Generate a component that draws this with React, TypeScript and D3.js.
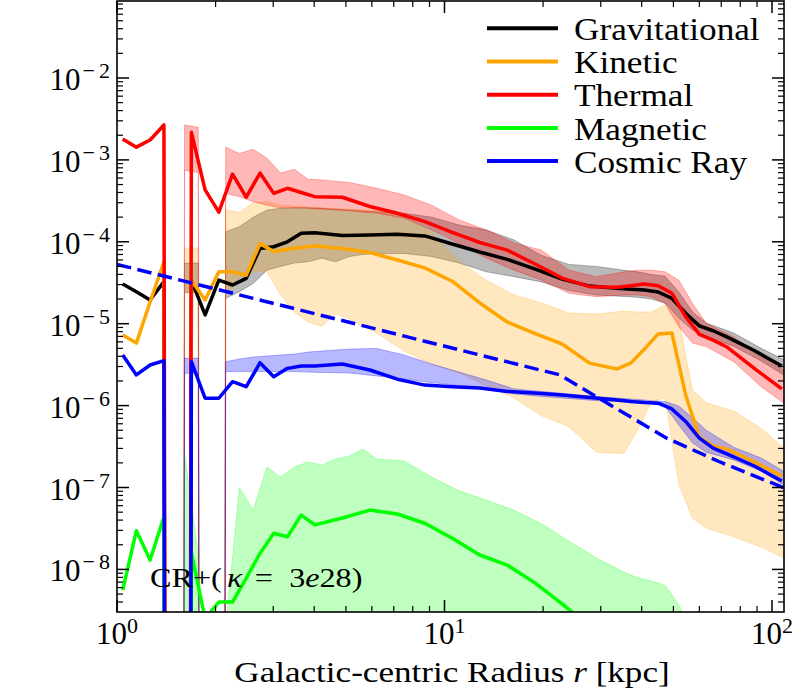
import * as d3 from "d3";

// radial bins of the profile lines (kpc)
const radii = [
  1.041, 1.146, 1.262, 1.391, 1.531, 1.687, 1.858, 2.046, 2.253, 2.481, 2.733,
  3.01, 3.314, 3.651, 4.02, 4.876, 5.916, 7.177, 8.707, 10.56, 12.81, 15.54,
  18.84, 22.86, 27.73, 33.63, 37.04, 40.79, 44.92, 49.47, 54.49, 60.0, 66.09,
  72.78, 88.28, 107.1,
];

const gravitational = [
  3.05e-5, 2.46e-5, 1.95e-5, 3.26e-5, 0, 3.4e-5, 1.28e-5, 3.4e-5, 2.97e-5,
  3.58e-5, 8.3e-5, 8.7e-5, 1.0e-4, 1.27e-4, 1.29e-4, 1.19e-4, 1.21e-4, 1.24e-4,
  1.18e-4, 9.4e-5, 7.5e-5, 6.1e-5, 4.66e-5, 3.5e-5, 2.88e-5, 2.7e-5, 2.63e-5,
  2.58e-5, 2.44e-5, 2.04e-5, 1.34e-5, 9.4e-6, 8.2e-6, 6.9e-6, 4.7e-6, 3.05e-6,
];
const kinetic = [
  7.3e-6, 5.8e-6, 1.84e-5, 5.7e-5, 0, 3.4e-5, 1.95e-5, 4.3e-5, 4.3e-5, 3.9e-5,
  9.5e-5, 7.6e-5, 8.1e-5, 8.5e-5, 8.9e-5, 8.3e-5, 7.4e-5, 6.0e-5, 4.8e-5,
  3.3e-5, 1.79e-5, 1.05e-5, 7.6e-6, 5.65e-6, 3.3e-6, 2.8e-6, 3.3e-6, 4.9e-6,
  7.5e-6, 7.7e-6, 1.35e-6, 4.1e-7, 3.2e-7, 2.96e-7, 2.05e-7, 1.38e-7,
];
const thermal = [
  1.8e-3, 1.43e-3, 1.75e-3, 2.67e-3, 0, 2.17e-3, 4.3e-4, 2.3e-4, 6.7e-4, 3.5e-4,
  6.9e-4, 3.9e-4, 4.5e-4, 4.0e-4, 3.56e-4, 3.5e-4, 2.7e-4, 2.23e-4, 1.76e-4,
  1.3e-4, 9.8e-5, 7.9e-5, 5.4e-5, 3.6e-5, 2.83e-5, 2.78e-5, 2.9e-5, 3.05e-5,
  2.9e-5, 2.35e-5, 1.22e-5, 7.4e-6, 6.3e-6, 5.2e-6, 2.85e-6, 1.6e-6,
];
const magnetic = [
  5.6e-9, 2.97e-8, 1.3e-8, 4.4e-8, 0, 1.6e-8, 2.5e-9, 4.0e-9, 4.0e-9, 7.8e-9,
  1.57e-8, 2.76e-8, 2.5e-8, 4.6e-8, 3.5e-8, 4.25e-8, 5.3e-8, 4.75e-8, 3.66e-8,
  2.4e-8, 1.5e-8, 1.13e-8, 6.9e-9, 3.8e-9, 2.0e-9, 1.5e-9, 1.3e-9, 1.2e-9,
  1.1e-9, 1.0e-9, 9e-10, 8e-10, 7e-10, 6e-10, 5e-10, 4e-10,
];
const cosmicRay = [
  4.15e-6, 2.37e-6, 3.13e-6, 3.54e-6, 0, 3.44e-6, 1.23e-6, 1.23e-6, 1.96e-6,
  1.7e-6, 3.34e-6, 2.25e-6, 2.85e-6, 3.05e-6, 3.05e-6, 3.22e-6, 2.72e-6, 2.1e-6,
  1.78e-6, 1.7e-6, 1.64e-6, 1.49e-6, 1.43e-6, 1.35e-6, 1.26e-6, 1.17e-6,
  1.12e-6, 1.09e-6, 1.07e-6, 9.1e-7, 6.4e-7, 4.0e-7, 3.03e-7, 2.57e-7, 1.83e-7,
  1.2e-7,
];

// percentile bands are sampled half a bin further out
const bandRadii = [
  1.46, 1.608, 1.771, 1.95, 2.147, 2.365, 2.605, 2.869, 3.159, 3.479, 3.832,
  4.22, 4.648, 5.119, 5.638, 6.21, 7.533, 9.137, 11.08, 13.44, 16.31, 19.78,
  23.99, 29.1, 35.3, 38.87, 42.81, 47.15, 51.92, 57.19, 62.98, 76.39, 92.68,
  112.4,
];
const gravHi = [
  0, 5.5e-5, 5.5e-5, 0, 1.33e-4, 1.53e-4, 2.0e-4, 2.44e-4, 2.56e-4, 2.6e-4,
  2.6e-4, 2.56e-4, 2.5e-4, 2.44e-4, 2.38e-4, 2.33e-4, 2.23e-4, 2.0e-4, 1.6e-4,
  1.39e-4, 1.05e-4, 6.8e-5, 5.3e-5, 5.0e-5, 4.5e-5, 4.3e-5, 4.0e-5, 3.8e-5,
  2.44e-5, 1.39e-5, 1.02e-5, 7.7e-6, 5.0e-6, 3.4e-6,
];
const gravLo = [
  0, 2.4e-5, 2.4e-5, 0, 2.04e-5, 2.46e-5, 3.1e-5, 4.5e-5, 5.0e-5, 5.5e-5,
  5.7e-5, 6.3e-5, 5.7e-5, 6.6e-5, 7.0e-5, 7.2e-5, 7.2e-5, 6.6e-5, 5.5e-5,
  4.3e-5, 3.75e-5, 3.24e-5, 2.54e-5, 2.24e-5, 2.15e-5, 2.1e-5, 2.0e-5, 1.79e-5,
  1.17e-5, 8.4e-6, 6.9e-6, 5.3e-6, 3.5e-6, 2.17e-6,
];
const kinHi = [
  0, 8.4e-5, 8.4e-5, 0, 2.44e-4, 2.3e-4, 3.0e-4, 3.1e-4, 2.8e-4, 2.74e-4,
  2.65e-4, 2.6e-4, 2.55e-4, 2.5e-4, 2.45e-4, 2.4e-4, 1.95e-4, 1.32e-4, 5.7e-5,
  3.4e-5, 2.24e-5, 1.79e-5, 1.35e-5, 1.31e-5, 1.43e-5, 1.39e-5, 1.39e-5,
  1.69e-5, 1.11e-5, 1.55e-6, 1.08e-6, 8.6e-7, 5.3e-7, 2.7e-7,
];
const kinLo = [
  0, 2.37e-5, 2.4e-5, 0, 2.18e-5, 3.7e-5, 4.3e-5, 4.3e-5, 2.24e-5, 1.39e-5,
  1.05e-5, 9.3e-6, 1.32e-5, 1.15e-5, 9.3e-6, 7.7e-6, 4.64e-6, 3.2e-6, 2.5e-6,
  1.74e-6, 1.24e-6, 7.5e-7, 5.5e-7, 2.7e-7, 2.6e-7, 5.0e-7, 1.1e-6, 1.25e-6,
  1.1e-7, 4.2e-8, 3.2e-8, 2.5e-8, 1.88e-8, 1.3e-8,
];
const thermHi = [
  0, 2.67e-3, 2.5e-3, 0, 1.43e-3, 1.2e-3, 1.35e-3, 1.05e-3, 6.9e-4, 7.7e-4,
  5.8e-4, 5.7e-4, 5.5e-4, 5.3e-4, 4.9e-4, 4.5e-4, 3.73e-4, 2.8e-4, 1.85e-4,
  1.39e-4, 9.7e-5, 7.9e-5, 4.5e-5, 3.75e-5, 4.3e-5, 4.5e-5, 4.5e-5, 4.3e-5,
  3.4e-5, 1.77e-5, 1.01e-5, 6.9e-6, 3.95e-6, 2.48e-6,
];
const thermLo = [
  0, 7.5e-4, 7.0e-4, 0, 3.9e-4, 3.56e-4, 3.09e-4, 2.8e-4, 2.6e-4, 2.6e-4,
  2.57e-4, 2.5e-4, 2.45e-4, 2.4e-4, 2.3e-4, 2.23e-4, 1.94e-4, 1.39e-4, 9.6e-5,
  6.3e-5, 4.5e-5, 3.4e-5, 2.35e-5, 2.14e-5, 2.24e-5, 2.24e-5, 2.14e-5, 1.77e-5,
  9.2e-6, 5.8e-6, 5.25e-6, 3.44e-6, 1.7e-6, 9.7e-7,
];
const magHi = [
  0, 2.6e-7, 1.5e-8, 0, 2.0e-9, 1.0e-7, 5.3e-8, 1.78e-7, 1.34e-7, 1.78e-7,
  2.05e-7, 1.88e-7, 2.23e-7, 2.43e-7, 2.95e-7, 2.23e-7, 2.11e-7, 1.34e-7,
  9.1e-8, 7.0e-8, 5.3e-8, 3.6e-8, 2.22e-8, 1.38e-8, 9.3e-9, 7.9e-9, 7.2e-9,
  6.4e-9, 3.7e-9, 1.5e-9, 1.0e-9, 8e-10, 6e-10, 4e-10,
];
const magLo = [
  0, 0, 0, 0, 0, 0, 0, 0, 0, 0, 0, 0, 0, 0, 0, 0, 0, 0, 0, 0, 0, 0, 0, 0, 0, 0,
  0, 0, 0, 0, 0, 0, 0, 0,
];
const crHi = [
  0, 3.8e-6, 3.8e-6, 0, 3.44e-6, 3.71e-6, 3.92e-6, 4.03e-6, 4.15e-6, 4.26e-6,
  4.5e-6, 4.64e-6, 4.77e-6, 4.9e-6, 4.95e-6, 4.98e-6, 4.15e-6, 3.22e-6, 2.57e-6,
  2.05e-6, 1.6e-6, 1.49e-6, 1.39e-6, 1.29e-6, 1.22e-6, 1.19e-6, 1.15e-6,
  1.12e-6, 9.9e-7, 7.1e-7, 5.0e-7, 3.1e-7, 2.29e-7, 1.46e-7,
];
const crLo = [
  0, 2.48e-6, 2.48e-6, 0, 2.6e-6, 2.6e-6, 2.6e-6, 2.6e-6, 2.6e-6, 2.6e-6,
  2.57e-6, 2.53e-6, 2.52e-6, 2.5e-6, 2.4e-6, 2.3e-6, 2.11e-6, 1.91e-6, 1.76e-6,
  1.64e-6, 1.39e-6, 1.29e-6, 1.22e-6, 1.15e-6, 1.11e-6, 1.08e-6, 1.05e-6,
  9.9e-7, 5.8e-7, 3.5e-7, 2.7e-7, 2.17e-7, 1.59e-7, 9.9e-8,
];

// dashed cosmic-ray reference profile
const crModelRadii = [1.0, 3.62, 14.77, 22.52, 31.27, 47.7, 69.4, 108.8];
const crModel = [5.3e-5, 1.47e-5, 3.6e-6, 2.37e-6, 1.08e-6, 4.0e-7, 2.05e-7, 9.9e-8];

const legendLabels = ["Gravitational", "Kinetic", "Thermal", "Magnetic", "Cosmic Ray"];
const COLORS = ["#000000", "#ffa500", "#ff0000", "#00ff00", "#0000ff"];
const yTickExponents = [-8, -7, -6, -5, -4, -3, -2];
const xTickExponents = [0, 1, 2];

const serif = (size: number) => ({ fontFamily: "Liberation Serif", fontSize: size });

export default function App() {
  const left = 117;
  const right = 784;
  const top = 1;
  const bottom = 612;

  const x = d3.scaleLog().domain([1, 108.8]).range([left, right]);
  const y = d3.scaleLog().domain([3.02e-9, 0.0871]).range([bottom, top]);

  // zeros are clipped far below the axis, as matplotlib does on a log axis
  const pos = (v: number) => (v > 0 ? v : 1e-100);

  const line = (xs: number[], ys: number[]) =>
    d3
      .line<number>()
      .x((_, i) => x(xs[i]))
      .y((v) => y(pos(v)))(ys) ?? "";

  const area = (lo: number[], hi: number[]) =>
    d3
      .area<number>()
      .x((r) => x(r))
      .y0((_, i) => y(pos(lo[i])))
      .y1((_, i) => y(pos(hi[i])))(bandRadii) ?? "";

  const series = [gravitational, kinetic, thermal, magnetic, cosmicRay];
  const bands = [
    [gravLo, gravHi],
    [kinLo, kinHi],
    [thermLo, thermHi],
    [magLo, magHi],
    [crLo, crHi],
  ];
  const bandAlpha = [0.27, 0.25, 0.28, 0.25, 0.28];

  const isMajor = (v: number) => Math.abs(Math.log10(v) - Math.round(Math.log10(v))) < 1e-6;
  const xt = x.ticks();
  const yt = y.ticks().filter((v) => v >= 3.02e-9 && v <= 0.0871);

  return (
    <svg
      width={796}
      height={694}
      style={{ position: "absolute", left: 0, top: 0, background: "#fff" }}
    >
      <defs>
        <clipPath id="plot">
          <rect x={left} y={top} width={right - left} height={bottom - top} />
        </clipPath>
      </defs>
      <rect x={0} y={0} width={796} height={694} fill="#fff" />

      <g clipPath="url(#plot)">
        {bands.map(([lo, hi], k) => (
          <path
            key={"b" + k}
            d={area(lo, hi)}
            fill={COLORS[k]}
            fillOpacity={bandAlpha[k]}
            stroke={COLORS[k]}
            strokeOpacity={bandAlpha[k]}
            strokeWidth={1}
          />
        ))}
        {series.map((s, k) => (
          <path
            key={"l" + k}
            d={line(radii, s)}
            fill="none"
            stroke={COLORS[k]}
            strokeWidth={3.5}
            strokeLinejoin="round"
          />
        ))}
        <path
          d={line(crModelRadii, crModel)}
          fill="none"
          stroke="#0000ff"
          strokeWidth={3.5}
          strokeDasharray="14.5,6.5"
        />
      </g>

      {/* ticks on all four sides, pointing in */}
      <g stroke="#000">
        {xt.map((v, i) => {
          const len = isMajor(v) ? 12 : 6;
          const px = x(v);
          return (
            <g key={"xt" + i} strokeWidth={isMajor(v) ? 1.5 : 1.2}>
              <line x1={px} x2={px} y1={bottom} y2={bottom - len} />
              <line x1={px} x2={px} y1={top} y2={top + len} />
            </g>
          );
        })}
        {yt.map((v, i) => {
          const len = isMajor(v) ? 12 : 6;
          const py = y(v);
          return (
            <g key={"yt" + i} strokeWidth={isMajor(v) ? 1.5 : 1.2}>
              <line x1={left} x2={left + len} y1={py} y2={py} />
              <line x1={right} x2={right - len} y1={py} y2={py} />
            </g>
          );
        })}
        <rect
          x={left}
          y={top}
          width={right - left}
          height={bottom - top}
          fill="none"
          strokeWidth={1.6}
        />
      </g>

      {yTickExponents.map((e) => (
        <text
          key={"yl" + e}
          x={left - 7}
          y={y(Math.pow(10, e)) + 12}
          textAnchor="end"
          style={serif(31)}
        >
          <tspan>10</tspan>
          <tspan dx={2} dy={-12} style={serif(22)}>
            {"\u2212"}
          </tspan>
          <tspan dx={4} style={serif(22)}>
            {String(Math.abs(e))}
          </tspan>
        </text>
      ))}
      {xTickExponents.map((e) => (
        <text
          key={"xl" + e}
          x={x(Math.pow(10, e))}
          y={bottom + 32}
          textAnchor="middle"
          style={serif(31)}
        >
          <tspan>10</tspan>
          <tspan dy={-11} style={serif(22)}>
            {String(e)}
          </tspan>
        </text>
      ))}

      <text transform="translate(452,682) scale(1.17,1)" textAnchor="middle" style={serif(30)}>
        Galactic-centric Radius <tspan style={{ fontStyle: "italic" }}>r</tspan> [kpc]
      </text>

      <text transform="translate(150,587) scale(1.15,1)" style={serif(28)}>
        <tspan x={0}>CR+(</tspan>
        <tspan x={67} style={{ fontStyle: "italic" }}>
          κ
        </tspan>
        <tspan x={91}>=</tspan>
        <tspan x={121}>3</tspan>
        <tspan style={{ fontStyle: "italic" }}>e</tspan>
        <tspan>28)</tspan>
      </text>

      {legendLabels.map((lab, k) => {
        const ry = 28.3 + 33.2 * k;
        return (
          <g key={"lg" + k}>
            <line x1={487} x2={558} y1={ry} y2={ry} stroke={COLORS[k]} strokeWidth={4} />
            <text transform={`translate(574,${ry + 11.7}) scale(1.1,1)`} style={serif(32)}>
              {lab}
            </text>
          </g>
        );
      })}
    </svg>
  );
}
